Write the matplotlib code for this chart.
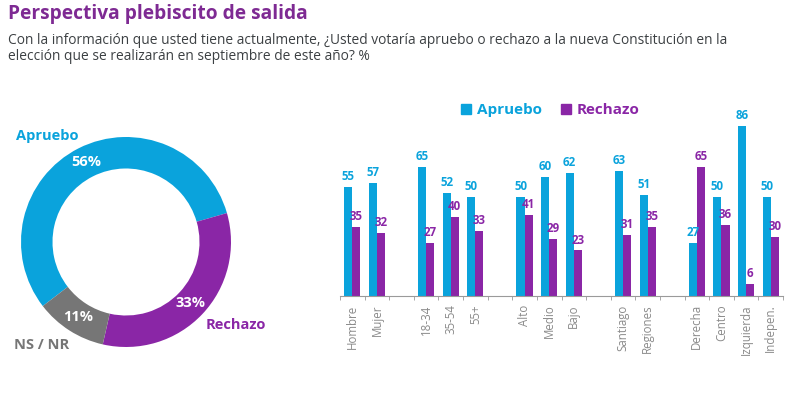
import matplotlib
matplotlib.use("Agg")
import matplotlib.pyplot as plt
from matplotlib.lines import Line2D
import numpy as np

plt.rcParams['font.family'] = ['Open Sans', 'DejaVu Sans']

BLUE = '#0aa3dc'
PURPLE = '#8a26a6'
GREY = '#767676'
TITLE_PURPLE = '#7e2a93'

# Donut data
donut_labels = ['Apruebo', 'Rechazo', 'NS / NR']
donut_values = [56, 33, 11]
donut_colors = [BLUE, PURPLE, GREY]

# Bar data (None = gap slot)
categories = ['Hombre', 'Mujer', '', '18-34', '35-54', '55+', '', 'Alto', 'Medio', 'Bajo',
              '', 'Santiago', 'Regiones', '', 'Derecha', 'Centro', 'Izquierda', 'Indepen.']
apruebo = [55, 57, None, 65, 52, 50, None, 50, 60, 62, None, 63, 51, None, 27, 50, 86, 50]
rechazo = [35, 32, None, 27, 40, 33, None, 41, 29, 23, None, 31, 35, None, 65, 36, 6, 30]

fig = plt.figure(figsize=(8, 3.97), dpi=100)

fig.text(8/800, 1-14/397, 'Perspectiva plebiscito de salida', color=TITLE_PURPLE,
         fontsize=13.8, fontweight='bold', va='center', ha='left')
fig.text(8/800, 1-40/397, 'Con la información que usted tiene actualmente, ¿Usted votaría apruebo o rechazo a la nueva Constitución en la',
         color='#3c4043', fontsize=9.9, va='center', ha='left')
fig.text(8/800, 1-57/397, 'elección que se realizarán en septiembre de este año? %',
         color='#3c4043', fontsize=9.9, va='center', ha='left')

# Donut
axd = fig.add_axes([21/800, 1-347/397, 210/800, 210/397])
wedges, _ = axd.pie(donut_values, colors=donut_colors, startangle=217.6, counterclock=False,
                    radius=1.0, wedgeprops=dict(width=0.3, linewidth=0))
axd.set_xlim(-1, 1)
axd.set_ylim(-1, 1)
axd.set_aspect('equal')
axd.axis('off')
ang = 217.6
for v, w in zip(donut_values, wedges):
    mid = np.deg2rad(ang - v*3.6/2)
    ang -= v*3.6
    axd.text(0.85*np.cos(mid), 0.85*np.sin(mid), f'{v}%', color='white', fontsize=10.5,
             fontweight='bold', ha='center', va='center')
axd.text(-0.75, 1.01, donut_labels[0], color=BLUE, fontsize=10.5, fontweight='bold',
         ha='center', va='center', clip_on=False)
axd.text(1.05, -0.79, donut_labels[1], color=PURPLE, fontsize=10.5, fontweight='bold',
         ha='center', va='center', clip_on=False)
axd.text(-0.8, -0.98, donut_labels[2], color=GREY, fontsize=10.5, fontweight='bold',
         ha='center', va='center', clip_on=False)

# Bars
axb = fig.add_axes([340/800, 1-296/397, 443/800, 186/397])
x = np.arange(len(categories))
bw = 0.33
for i, (a, r) in enumerate(zip(apruebo, rechazo)):
    if a is None:
        continue
    axb.bar(i - bw/2, a, width=bw, color=BLUE, linewidth=0)
    axb.bar(i + bw/2, r, width=bw, color=PURPLE, linewidth=0)
    axb.text(i - bw/2, a + 2, str(a), color=BLUE, fontsize=8.3, fontweight='bold',
             ha='center', va='bottom')
    axb.text(i + bw/2, r + 2, str(r), color=PURPLE, fontsize=8.3, fontweight='bold',
             ha='center', va='bottom')
axb.set_xlim(-0.5, len(categories) - 0.5)
axb.set_ylim(0, 94)
for s in ['top', 'right', 'left']:
    axb.spines[s].set_visible(False)
axb.spines['bottom'].set_color('#9a9a9a')
axb.set_yticks([])
axb.set_xticks(x)
axb.set_xticklabels(categories, rotation=90, color='#8a8a8a', fontsize=8.3)
axb.tick_params(axis='x', which='major', length=0, pad=6)
axb.set_xticks(np.arange(-0.5, len(categories)), minor=True)
axb.tick_params(axis='x', which='minor', length=3, color='#9a9a9a')

handles = [Line2D([], [], marker='s', linestyle='', color=BLUE, markersize=7),
           Line2D([], [], marker='s', linestyle='', color=PURPLE, markersize=7)]
leg = fig.legend(handles, ['Apruebo', 'Rechazo'], loc='center', bbox_to_anchor=(550/800, 1-110/397),
                 ncol=2, frameon=False, handlelength=0.8, handletextpad=0.3, columnspacing=1.2,
                 prop=dict(size=11, weight='bold'))
for t, c in zip(leg.get_texts(), [BLUE, PURPLE]):
    t.set_color(c)

fig.savefig('out.png', dpi=100)
